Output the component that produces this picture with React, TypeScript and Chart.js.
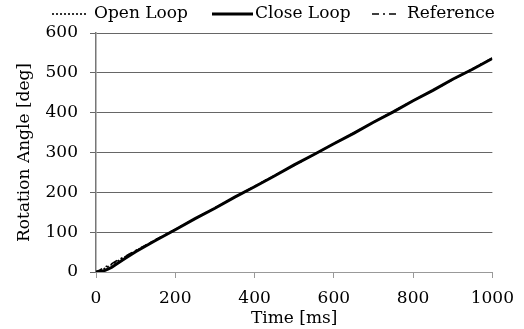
import React, { useEffect, useRef } from "react";
import { Chart, registerables } from "chart.js";

Chart.register(...registerables);

const timeMs = [0, 10, 20, 30, 40, 50, 75, 100, 150, 200, 250, 300, 350, 400, 450, 500, 550, 600, 650, 700, 750, 800, 850, 900, 950, 1000];
const openLoop = [0, 4, 8, 13, 19, 25, 39, 53, 80, 107, 134, 161, 188, 215, 242, 268, 295, 322, 349, 376, 403, 430, 456, 483, 510, 537];
const closeLoop = [0, 1, 3, 7, 12, 19, 35, 51, 79, 106, 134, 160, 188, 214, 241, 269, 295, 322, 348, 376, 402, 430, 456, 484, 509, 536];
const reference = [0, 5, 11, 16, 21, 27, 40, 54, 81, 107, 134, 161, 188, 215, 242, 268, 295, 322, 349, 376, 403, 430, 456, 483, 510, 537];
const seriesNames = ["Open Loop", "Close Loop", "Reference"];
const xTicks = [0, 200, 400, 600, 800, 1000];
const yTicks = [0, 100, 200, 300, 400, 500, 600];

const FONT = "'DejaVu Serif', serif";

const legendPlugin = {
  id: "customLegend",
  afterDraw(chart: any) {
    const ctx = chart.ctx;
    const items = [
      { x0: 52, x1: 86, tx: 94 },
      { x0: 212, x1: 253, tx: 255 },
      { x0: 372, x1: 399, tx: 407 },
    ];
    const y = 14;
    ctx.save();
    ctx.font = `17px ${FONT}`;
    ctx.textBaseline = "middle";
    ctx.fillStyle = "#000";
    chart.data.datasets.forEach((ds: any, i: number) => {
      const it = items[i];
      ctx.beginPath();
      ctx.setLineDash(ds.borderDash || []);
      ctx.lineWidth = ds.borderWidth;
      ctx.strokeStyle = ds.borderColor;
      ctx.moveTo(it.x0, y);
      ctx.lineTo(it.x1, y);
      ctx.stroke();
      ctx.setLineDash([]);
      ctx.fillText(ds.label, it.tx, y);
    });
    ctx.restore();
  },
};

export default function App() {
  const ref = useRef<HTMLCanvasElement>(null);
  useEffect(() => {
    document.body.style.margin = "0";
    const mk = (vals: number[]) => timeMs.map((t, i) => ({ x: t, y: vals[i] }));
    const chart = new Chart(ref.current!, {
      type: "line",
      data: {
        datasets: [
          { label: seriesNames[0], data: mk(openLoop), borderColor: "#000", borderWidth: 1.6, borderDash: [2, 2], pointRadius: 0, fill: false },
          { label: seriesNames[1], data: mk(closeLoop), borderColor: "#000", borderWidth: 3, borderDash: [], pointRadius: 0, fill: false },
          { label: seriesNames[2], data: mk(reference), borderColor: "#000", borderWidth: 1.6, borderDash: [7, 4, 2, 4], pointRadius: 0, fill: false },
        ],
      },
      options: {
        animation: false,
        responsive: false,
        maintainAspectRatio: false,
        layout: { padding: { top: 33, right: 31, left: 0, bottom: 0 } },
        plugins: { legend: { display: false }, tooltip: { enabled: false } },
        scales: {
          x: {
            type: "linear",
            min: 0,
            max: 1000,
            afterBuildTicks: (s: any) => { s.ticks = xTicks.map((v) => ({ value: v })); },
            afterFit: (s: any) => { s.height = 57; },
            grid: { drawOnChartArea: false, drawTicks: true, tickLength: 6, color: "#999", lineWidth: 1 },
            border: { color: "#999", width: 1 },
            ticks: { color: "#000", font: { family: FONT, size: 17 }, padding: 10, maxRotation: 0, callback: (v: any) => String(v) },
            title: { display: true, text: "Time [ms]", color: "#000", font: { family: FONT, size: 17 }, padding: { top: 0, bottom: 0 } },
          },
          y: {
            type: "linear",
            min: 0,
            max: 600,
            afterBuildTicks: (s: any) => { s.ticks = yTicks.map((v) => ({ value: v })); },
            afterFit: (s: any) => { s.width = 96; },
            grid: { drawOnChartArea: true, drawTicks: true, tickLength: 6, color: "#666", lineWidth: 1 },
            border: { color: "#777", width: 1.5 },
            ticks: { color: "#000", font: { family: FONT, size: 17 }, padding: 12, callback: (v: any) => String(v) },
            title: { display: true, text: "Rotation Angle [deg]", color: "#000", font: { family: FONT, size: 17 }, padding: { top: 14, bottom: 0 } },
          },
        },
      },
      plugins: [legendPlugin],
    });
    return () => chart.destroy();
  }, []);
  return (
    <div style={{ width: 524, height: 329 }}>
      <canvas ref={ref} width={524} height={329} style={{ width: 524, height: 329 }} />
    </div>
  );
}
